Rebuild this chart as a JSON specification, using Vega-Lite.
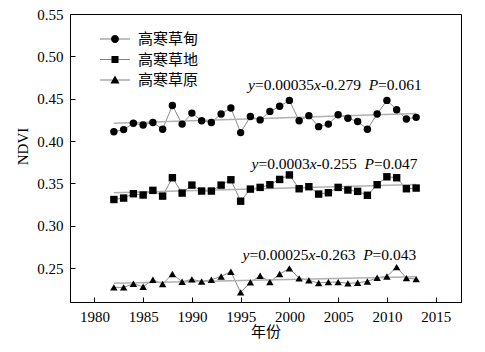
{
  "$schema": "https://vega.github.io/schema/vega-lite/v6.json",
  "width": 391,
  "height": 288,
  "autosize": "none",
  "padding": {"left": 70, "top": 14, "right": 24, "bottom": 50},
  "background": "white",
  "data": {"values": [
    {"year":1982,"series":"高寒草甸","value":0.411},{"year":1983,"series":"高寒草甸","value":0.4135},{"year":1984,"series":"高寒草甸","value":0.421},{"year":1985,"series":"高寒草甸","value":0.419},{"year":1986,"series":"高寒草甸","value":0.422},{"year":1987,"series":"高寒草甸","value":0.414},{"year":1988,"series":"高寒草甸","value":0.442},{"year":1989,"series":"高寒草甸","value":0.420},{"year":1990,"series":"高寒草甸","value":0.433},{"year":1991,"series":"高寒草甸","value":0.424},{"year":1992,"series":"高寒草甸","value":0.422},{"year":1993,"series":"高寒草甸","value":0.432},{"year":1994,"series":"高寒草甸","value":0.439},{"year":1995,"series":"高寒草甸","value":0.410},{"year":1996,"series":"高寒草甸","value":0.429},{"year":1997,"series":"高寒草甸","value":0.425},{"year":1998,"series":"高寒草甸","value":0.435},{"year":1999,"series":"高寒草甸","value":0.441},{"year":2000,"series":"高寒草甸","value":0.448},{"year":2001,"series":"高寒草甸","value":0.424},{"year":2002,"series":"高寒草甸","value":0.430},{"year":2003,"series":"高寒草甸","value":0.417},{"year":2004,"series":"高寒草甸","value":0.420},{"year":2005,"series":"高寒草甸","value":0.431},{"year":2006,"series":"高寒草甸","value":0.427},{"year":2007,"series":"高寒草甸","value":0.423},{"year":2008,"series":"高寒草甸","value":0.414},{"year":2009,"series":"高寒草甸","value":0.432},{"year":2010,"series":"高寒草甸","value":0.448},{"year":2011,"series":"高寒草甸","value":0.437},{"year":2012,"series":"高寒草甸","value":0.426},{"year":2013,"series":"高寒草甸","value":0.428},
    {"year":1982,"series":"高寒草地","value":0.331},{"year":1983,"series":"高寒草地","value":0.3327},{"year":1984,"series":"高寒草地","value":0.3378},{"year":1985,"series":"高寒草地","value":0.3363},{"year":1986,"series":"高寒草地","value":0.3418},{"year":1987,"series":"高寒草地","value":0.335},{"year":1988,"series":"高寒草地","value":0.3567},{"year":1989,"series":"高寒草地","value":0.3386},{"year":1990,"series":"高寒草地","value":0.348},{"year":1991,"series":"高寒草地","value":0.341},{"year":1992,"series":"高寒草地","value":0.341},{"year":1993,"series":"高寒草地","value":0.348},{"year":1994,"series":"高寒草地","value":0.3543},{"year":1995,"series":"高寒草地","value":0.329},{"year":1996,"series":"高寒草地","value":0.3433},{"year":1997,"series":"高寒草地","value":0.3453},{"year":1998,"series":"高寒草地","value":0.3485},{"year":1999,"series":"高寒草地","value":0.3547},{"year":2000,"series":"高寒草地","value":0.360},{"year":2001,"series":"高寒草地","value":0.3437},{"year":2002,"series":"高寒草地","value":0.3461},{"year":2003,"series":"高寒草地","value":0.3374},{"year":2004,"series":"高寒草地","value":0.339},{"year":2005,"series":"高寒草地","value":0.3453},{"year":2006,"series":"高寒草地","value":0.3422},{"year":2007,"series":"高寒草地","value":0.3406},{"year":2008,"series":"高寒草地","value":0.336},{"year":2009,"series":"高寒草地","value":0.3485},{"year":2010,"series":"高寒草地","value":0.3578},{"year":2011,"series":"高寒草地","value":0.3567},{"year":2012,"series":"高寒草地","value":0.3437},{"year":2013,"series":"高寒草地","value":0.3445},
    {"year":1982,"series":"高寒草原","value":0.2273},{"year":1983,"series":"高寒草原","value":0.2273},{"year":1984,"series":"高寒草原","value":0.2316},{"year":1985,"series":"高寒草原","value":0.228},{"year":1986,"series":"高寒草原","value":0.2363},{"year":1987,"series":"高寒草原","value":0.2312},{"year":1988,"series":"高寒草原","value":0.243},{"year":1989,"series":"高寒草原","value":0.2339},{"year":1990,"series":"高寒草原","value":0.2367},{"year":1991,"series":"高寒草原","value":0.2343},{"year":1992,"series":"高寒草原","value":0.2363},{"year":1993,"series":"高寒草原","value":0.2402},{"year":1994,"series":"高寒草原","value":0.2457},{"year":1995,"series":"高寒草原","value":0.2214},{"year":1996,"series":"高寒草原","value":0.2332},{"year":1997,"series":"高寒草原","value":0.241},{"year":1998,"series":"高寒草原","value":0.2335},{"year":1999,"series":"高寒草原","value":0.243},{"year":2000,"series":"高寒草原","value":0.2497},{"year":2001,"series":"高寒草原","value":0.2379},{"year":2002,"series":"高寒草原","value":0.2355},{"year":2003,"series":"高寒草原","value":0.2324},{"year":2004,"series":"高寒草原","value":0.2335},{"year":2005,"series":"高寒草原","value":0.2335},{"year":2006,"series":"高寒草原","value":0.232},{"year":2007,"series":"高寒草原","value":0.2327},{"year":2008,"series":"高寒草原","value":0.2343},{"year":2009,"series":"高寒草原","value":0.2386},{"year":2010,"series":"高寒草原","value":0.2402},{"year":2011,"series":"高寒草原","value":0.2512},{"year":2012,"series":"高寒草原","value":0.2382},{"year":2013,"series":"高寒草原","value":0.237}
  ]},
  "datasets": {
    "annot": [
      {"year":1995.756,"value":0.4597,"label":"y","italic":true},
      {"year":1996.464,"value":0.4597,"label":"=0.00035","italic":false},
      {"year":2002.525,"value":0.4597,"label":"x","italic":true},
      {"year":2003.233,"value":0.4597,"label":"-0.279","italic":false},
      {"year":2008.135,"value":0.4597,"label":"P","italic":true},
      {"year":2009.099,"value":0.4597,"label":"=0.061","italic":false},
      {"year":1996.115,"value":0.3674,"label":"y","italic":true},
      {"year":1996.823,"value":0.3674,"label":"=0.0003","italic":false},
      {"year":2002.084,"value":0.3674,"label":"x","italic":true},
      {"year":2002.791,"value":0.3674,"label":"-0.255","italic":false},
      {"year":2007.694,"value":0.3674,"label":"P","italic":true},
      {"year":2008.668,"value":0.3674,"label":"=0.047","italic":false},
      {"year":1995.192,"value":0.2599,"label":"y","italic":true},
      {"year":1995.900,"value":0.2599,"label":"=0.00025","italic":false},
      {"year":2001.961,"value":0.2599,"label":"x","italic":true},
      {"year":2002.669,"value":0.2599,"label":"-0.263","italic":false},
      {"year":2007.571,"value":0.2599,"label":"P","italic":true},
      {"year":2008.535,"value":0.2599,"label":"=0.043","italic":false}
    ]
  },
  "encoding": {
    "x": {"field": "year", "type": "quantitative", "scale": {"domain": [1977.5, 2017.6], "nice": false, "zero": false},
      "axis": {"title": "年份", "values": [1980,1985,1990,1995,2000,2005,2010,2015], "format": "d", "titleFont": "Noto Sans CJK SC", "titlePadding": 0, "labelPadding": 12}},
    "y": {"field": "value", "type": "quantitative", "scale": {"domain": [0.21, 0.55], "nice": false, "zero": false},
      "axis": {"title": "NDVI", "values": [0.25,0.30,0.35,0.40,0.45,0.50,0.55], "format": ".2f", "titlePadding": 6, "labelPadding": 12, "titleY": 132}}
  },
  "layer": [
    {"mark": {"type": "line", "color": "#8a8a8a", "strokeWidth": 1}, "encoding": {"detail": {"field": "series"}}},
    {"transform": [{"regression": "value", "on": "year", "groupby": ["series"]}],
     "mark": {"type": "line", "color": "#b0b0b0", "strokeWidth": 1.5}, "encoding": {"detail": {"field": "series"}}},
    {"mark": {"type": "point", "filled": true, "color": "black", "opacity": 1, "size": 55},
     "encoding": {"shape": {"field": "series", "type": "nominal", "scale": {"domain": ["高寒草甸","高寒草地","高寒草原"], "range": ["circle","square","triangle-up"]}, "legend": null}}},
    {"mark": {"type": "point", "filled": true, "color": "black", "opacity": 0},
     "encoding": {
       "shape": {"field": "series", "type": "nominal", "scale": {"domain": ["高寒草甸","高寒草地","高寒草原"], "range": [
        "M-2,-0.04L-0.5,-0.04L-0.5,0.04L-2,0.04Z M0.5,-0.04L2,-0.04L2,0.04L0.5,0.04Z M0.53,0A0.53,0.53,0,1,1,-0.53,0A0.53,0.53,0,1,1,0.53,0Z",
        "M-2,-0.04L-0.47,-0.04L-0.47,0.04L-2,0.04Z M0.47,-0.04L2,-0.04L2,0.04L0.47,0.04Z M-0.47,-0.47L0.47,-0.47L0.47,0.47L-0.47,0.47Z",
        "M-2,-0.04L-0.3,-0.04L-0.3,0.04L-2,0.04Z M0.3,-0.04L2,-0.04L2,0.04L0.3,0.04Z M0,-0.6L0.6,0.47L-0.6,0.47Z"]},
        "legend": {"title": null, "orient": "none", "legendX": 37.5, "legendY": 17.5, "symbolSize": 225, "symbolOpacity": 1, "symbolFillColor": "black", "symbolStrokeWidth": 0, "labelFont": "Noto Sans CJK SC", "labelFontSize": 15, "labelOffset": 15.5, "rowPadding": 4.5, "padding": 0, "labelColor": "black"}}
     }},
    {"data": {"name": "annot"},
     "transform": [{"filter": "datum.italic"}],
     "mark": {"type": "text", "align": "left", "baseline": "alphabetic", "font": "Liberation Serif", "fontSize": 15.5, "fontStyle": "italic", "color": "black"},
     "encoding": {"text": {"field": "label"}}},
    {"data": {"name": "annot"},
     "transform": [{"filter": "!datum.italic"}],
     "mark": {"type": "text", "align": "left", "baseline": "alphabetic", "font": "Liberation Serif", "fontSize": 15.5, "color": "black"},
     "encoding": {"text": {"field": "label"}}}
  ],
  "resolve": {"scale": {"shape": "independent"}},
  "config": {
    "view": {"stroke": "black", "strokeWidth": 1},
    "axis": {"grid": false, "domainColor": "black", "tickColor": "black", "tickSize": -5, "labelFont": "Liberation Serif", "labelFontSize": 15, "labelColor": "black", "titleFont": "Liberation Serif", "titleFontSize": 15, "titleFontWeight": "normal", "titleColor": "black"}
  }
}
